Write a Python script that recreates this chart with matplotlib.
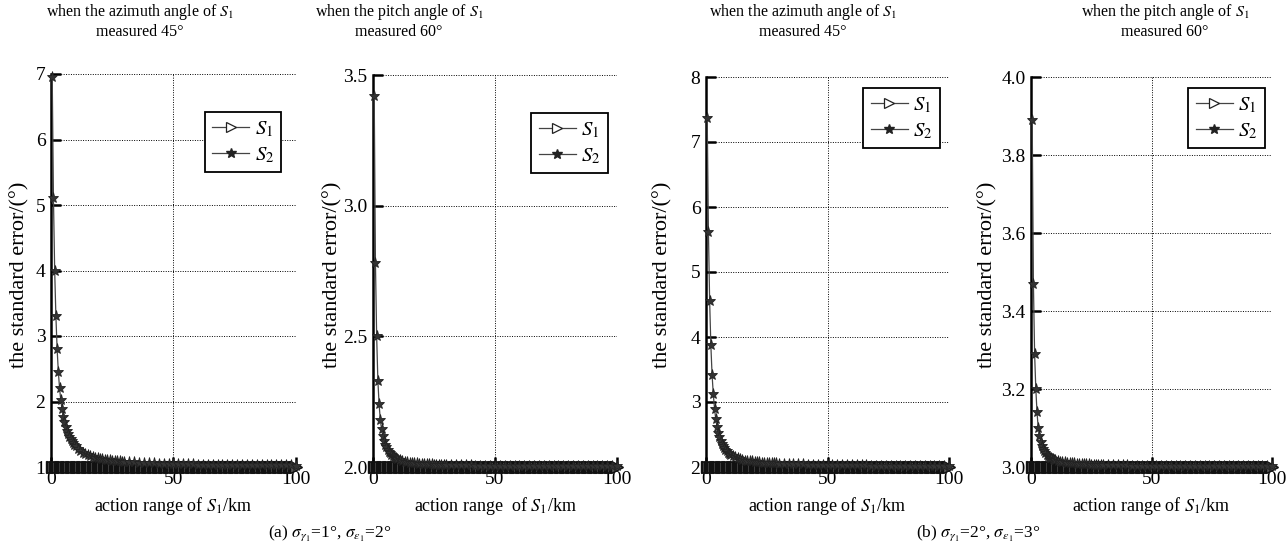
import matplotlib
matplotlib.use("Agg")
import matplotlib.pyplot as plt
import numpy as np

plt.rcParams['font.family'] = ['Liberation Serif', 'DejaVu Serif']
plt.rcParams['mathtext.fontset'] = 'stix'

# sample ranges of S1 (km) used for the S2 curves
x_near = np.arange(0.5, 10.01, 0.5)
x_mid = np.arange(11, 31, 1)
x_far = np.arange(32, 101, 2)
x_s2 = np.concatenate([x_near, x_mid, x_far])
x_s1 = np.arange(0.5, 100.01, 0.5)

# (a) azimuth, measured 45 deg
s2_a_az = [6.95, 5.10, 4.00, 3.30, 2.80, 2.45, 2.20, 2.02, 1.88, 1.77,
           1.68, 1.61, 1.55, 1.50, 1.46, 1.42, 1.39, 1.36, 1.34, 1.32,
           1.28, 1.25, 1.22, 1.20, 1.18, 1.17, 1.15, 1.14, 1.13, 1.12,
           1.115, 1.11, 1.105, 1.10, 1.095, 1.09, 1.087, 1.084, 1.081, 1.078,
           1.073, 1.069, 1.065, 1.061, 1.058, 1.055, 1.053, 1.05, 1.048, 1.046,
           1.044, 1.043, 1.041, 1.04, 1.038, 1.037, 1.036, 1.035, 1.034, 1.033,
           1.032, 1.031, 1.03, 1.029, 1.029, 1.028, 1.027, 1.027, 1.026, 1.025,
           1.025, 1.024, 1.024, 1.023, 1.022]
# (a) pitch, measured 60 deg
s2_a_pitch = [3.42, 2.78, 2.50, 2.33, 2.24, 2.18, 2.145, 2.12, 2.10, 2.085,
              2.075, 2.066, 2.058, 2.052, 2.047, 2.043, 2.039, 2.036, 2.033, 2.031,
              2.027, 2.024, 2.021, 2.019, 2.017, 2.016, 2.015, 2.014, 2.013, 2.012,
              2.0115, 2.011, 2.0105, 2.010, 2.0095, 2.009, 2.0087, 2.0084, 2.0081, 2.0078,
              2.0073, 2.0069, 2.0065, 2.0061, 2.0058, 2.0055, 2.0053, 2.005, 2.0048, 2.0046,
              2.0044, 2.0043, 2.0041, 2.004, 2.0038, 2.0037, 2.0036, 2.0035, 2.0034, 2.0033,
              2.0032, 2.0031, 2.003, 2.0029, 2.0029, 2.0028, 2.0027, 2.0027, 2.0026, 2.0025,
              2.0025, 2.0024, 2.0024, 2.0023, 2.0022]
# (b) azimuth, measured 45 deg
s2_b_az = [7.37, 5.62, 4.55, 3.87, 3.42, 3.12, 2.90, 2.74, 2.62, 2.53,
           2.46, 2.40, 2.36, 2.32, 2.29, 2.26, 2.24, 2.22, 2.20, 2.19,
           2.17, 2.15, 2.14, 2.12, 2.11, 2.10, 2.095, 2.09, 2.085, 2.08,
           2.076, 2.072, 2.069, 2.066, 2.063, 2.06, 2.058, 2.056, 2.054, 2.052,
           2.049, 2.046, 2.043, 2.041, 2.039, 2.037, 2.035, 2.034, 2.032, 2.031,
           2.03, 2.029, 2.028, 2.027, 2.026, 2.025, 2.024, 2.024, 2.023, 2.022,
           2.022, 2.021, 2.021, 2.02, 2.02, 2.019, 2.019, 2.018, 2.018, 2.018,
           2.017, 2.017, 2.016, 2.016, 2.016]
# (b) pitch, measured 60 deg
s2_b_pitch = [3.89, 3.47, 3.29, 3.20, 3.14, 3.10, 3.08, 3.065, 3.055, 3.047,
              3.041, 3.036, 3.032, 3.029, 3.026, 3.024, 3.022, 3.020, 3.019, 3.018,
              3.016, 3.014, 3.013, 3.012, 3.011, 3.010, 3.0095, 3.009, 3.0085, 3.008,
              3.0076, 3.0072, 3.0069, 3.0066, 3.0063, 3.006, 3.0058, 3.0056, 3.0054, 3.0052,
              3.0049, 3.0046, 3.0043, 3.0041, 3.0039, 3.0037, 3.0035, 3.0034, 3.0032, 3.0031,
              3.003, 3.0029, 3.0028, 3.0027, 3.0026, 3.0025, 3.0024, 3.0024, 3.0023, 3.0022,
              3.0022, 3.0021, 3.0021, 3.002, 3.002, 3.0019, 3.0019, 3.0018, 3.0018, 3.0018,
              3.0017, 3.0017, 3.0016, 3.0016, 3.0016]

s2_series = [s2_a_az, s2_a_pitch, s2_b_az, s2_b_pitch]
s1_levels = [1.0, 2.0, 2.0, 3.0]
y_ticks = [[1, 2, 3, 4, 5, 6, 7],
           [2.0, 2.5, 3.0, 3.5],
           [2, 3, 4, 5, 6, 7, 8],
           [3.0, 3.2, 3.4, 3.6, 3.8, 4.0]]
y_fmt = ['%d', '%.1f', '%d', '%.1f']
x_ticks = [0, 50, 100]
titles = ['when the azimuth angle of $S_1$\nmeasured 45°',
          'when the pitch angle of $S_1$\nmeasured 60°',
          'when the azimuth angle of $S_1$\nmeasured 45°',
          'when the pitch angle of $S_1$\nmeasured 60°']
xlabels = ['action range of $S_1$/km', 'action range  of $S_1$/km',
           'action range of $S_1$/km', 'action range of $S_1$/km']
ylabel = 'the standard error/(°)'
captions = ['(a) $\\sigma_{\\gamma_1}$=1°, $\\sigma_{\\varepsilon_1}$=2°',
            '(b) $\\sigma_{\\gamma_1}$=2°, $\\sigma_{\\varepsilon_1}$=3°']

W, H = 1286, 544
fig = plt.figure(figsize=(W / 100, H / 100), dpi=100)

# pixel boxes (left, right, top, bottom) of each axes
axes_px = [(51, 296, 74, 467), (373, 617, 75, 467),
           (706, 949, 77, 467), (1031, 1272, 77, 467)]
title_x = [140, 399, 803, 1165]
ylabel_x = [20, 333, 663, 988]
legend_anchor = [(0.94, 0.903), (0.963, 0.903), (0.963, 0.972), (0.971, 0.972)]

for i, (l, r, t, b) in enumerate(axes_px):
    ax = fig.add_axes([l / W, 1 - b / H, (r - l) / W, (b - t) / H])
    yt = y_ticks[i]
    ax.plot(x_s1, [s1_levels[i]] * len(x_s1), color='#222222', lw=0.8,
            marker='>', ms=9, mfc='#555555', mec='#111111', mew=1.0,
            clip_on=False, zorder=3, label='$S_1$')
    ax.plot(x_s2, s2_series[i], color='#444444', lw=0.9,
            marker='*', ms=8, mfc='#333333', mec='#222222', mew=0.6,
            clip_on=False, zorder=4, label='$S_2$')
    ax.set_xlim(0, 100)
    ax.set_ylim(yt[0], yt[-1])
    ax.set_xticks(x_ticks)
    ax.set_yticks(yt)
    ax.set_yticklabels([y_fmt[i] % v for v in yt])
    ax.grid(True, color='black', ls=(0, (1, 1.5)), lw=0.7)
    for side in ['top', 'right']:
        ax.spines[side].set_visible(False)
    ax.spines['left'].set_linewidth(1.8)
    ax.spines['bottom'].set_linewidth(1.8)
    ax.tick_params(direction='in', length=7, width=1.8, labelsize=14, pad=4)
    ax.tick_params(axis='x', pad=3)

    # legend with open triangles like the original key
    h1, = ax.plot([], [], color='#444444', lw=0.9, marker='>', ms=7,
                  mfc='white', mec='#222222', mew=0.9)
    h2, = ax.plot([], [], color='#444444', lw=0.9, marker='*', ms=7,
                  mfc='#222222', mec='#222222')
    leg = ax.legend([h1, h2], ['$S_1$', '$S_2$'], loc='upper right',
                    bbox_to_anchor=legend_anchor[i], borderaxespad=0,
                    numpoints=1, handlelength=1.8, fontsize=15, fancybox=False,
                    edgecolor='black', framealpha=1, borderpad=0.35,
                    labelspacing=0.3, handletextpad=0.25)
    leg.get_frame().set_linewidth(1.3)

    fig.text(title_x[i] / W, 1 - 21 / H, titles[i], ha='center', va='center',
             fontsize=11.5, linespacing=1.2)
    fig.text(ylabel_x[i] / W, 1 - 275 / H, ylabel, rotation=90,
             ha='center', va='center', fontsize=16)
    fig.text((l + r) / 2 / W, 1 - 506 / H, xlabels[i], ha='center',
             va='center', fontsize=13)

fig.text(330 / W, 1 - 533 / H, captions[0], ha='center', va='center', fontsize=12.5)
fig.text(978 / W, 1 - 533 / H, captions[1], ha='center', va='center', fontsize=12.5)

fig.savefig('out.png', dpi=100)
